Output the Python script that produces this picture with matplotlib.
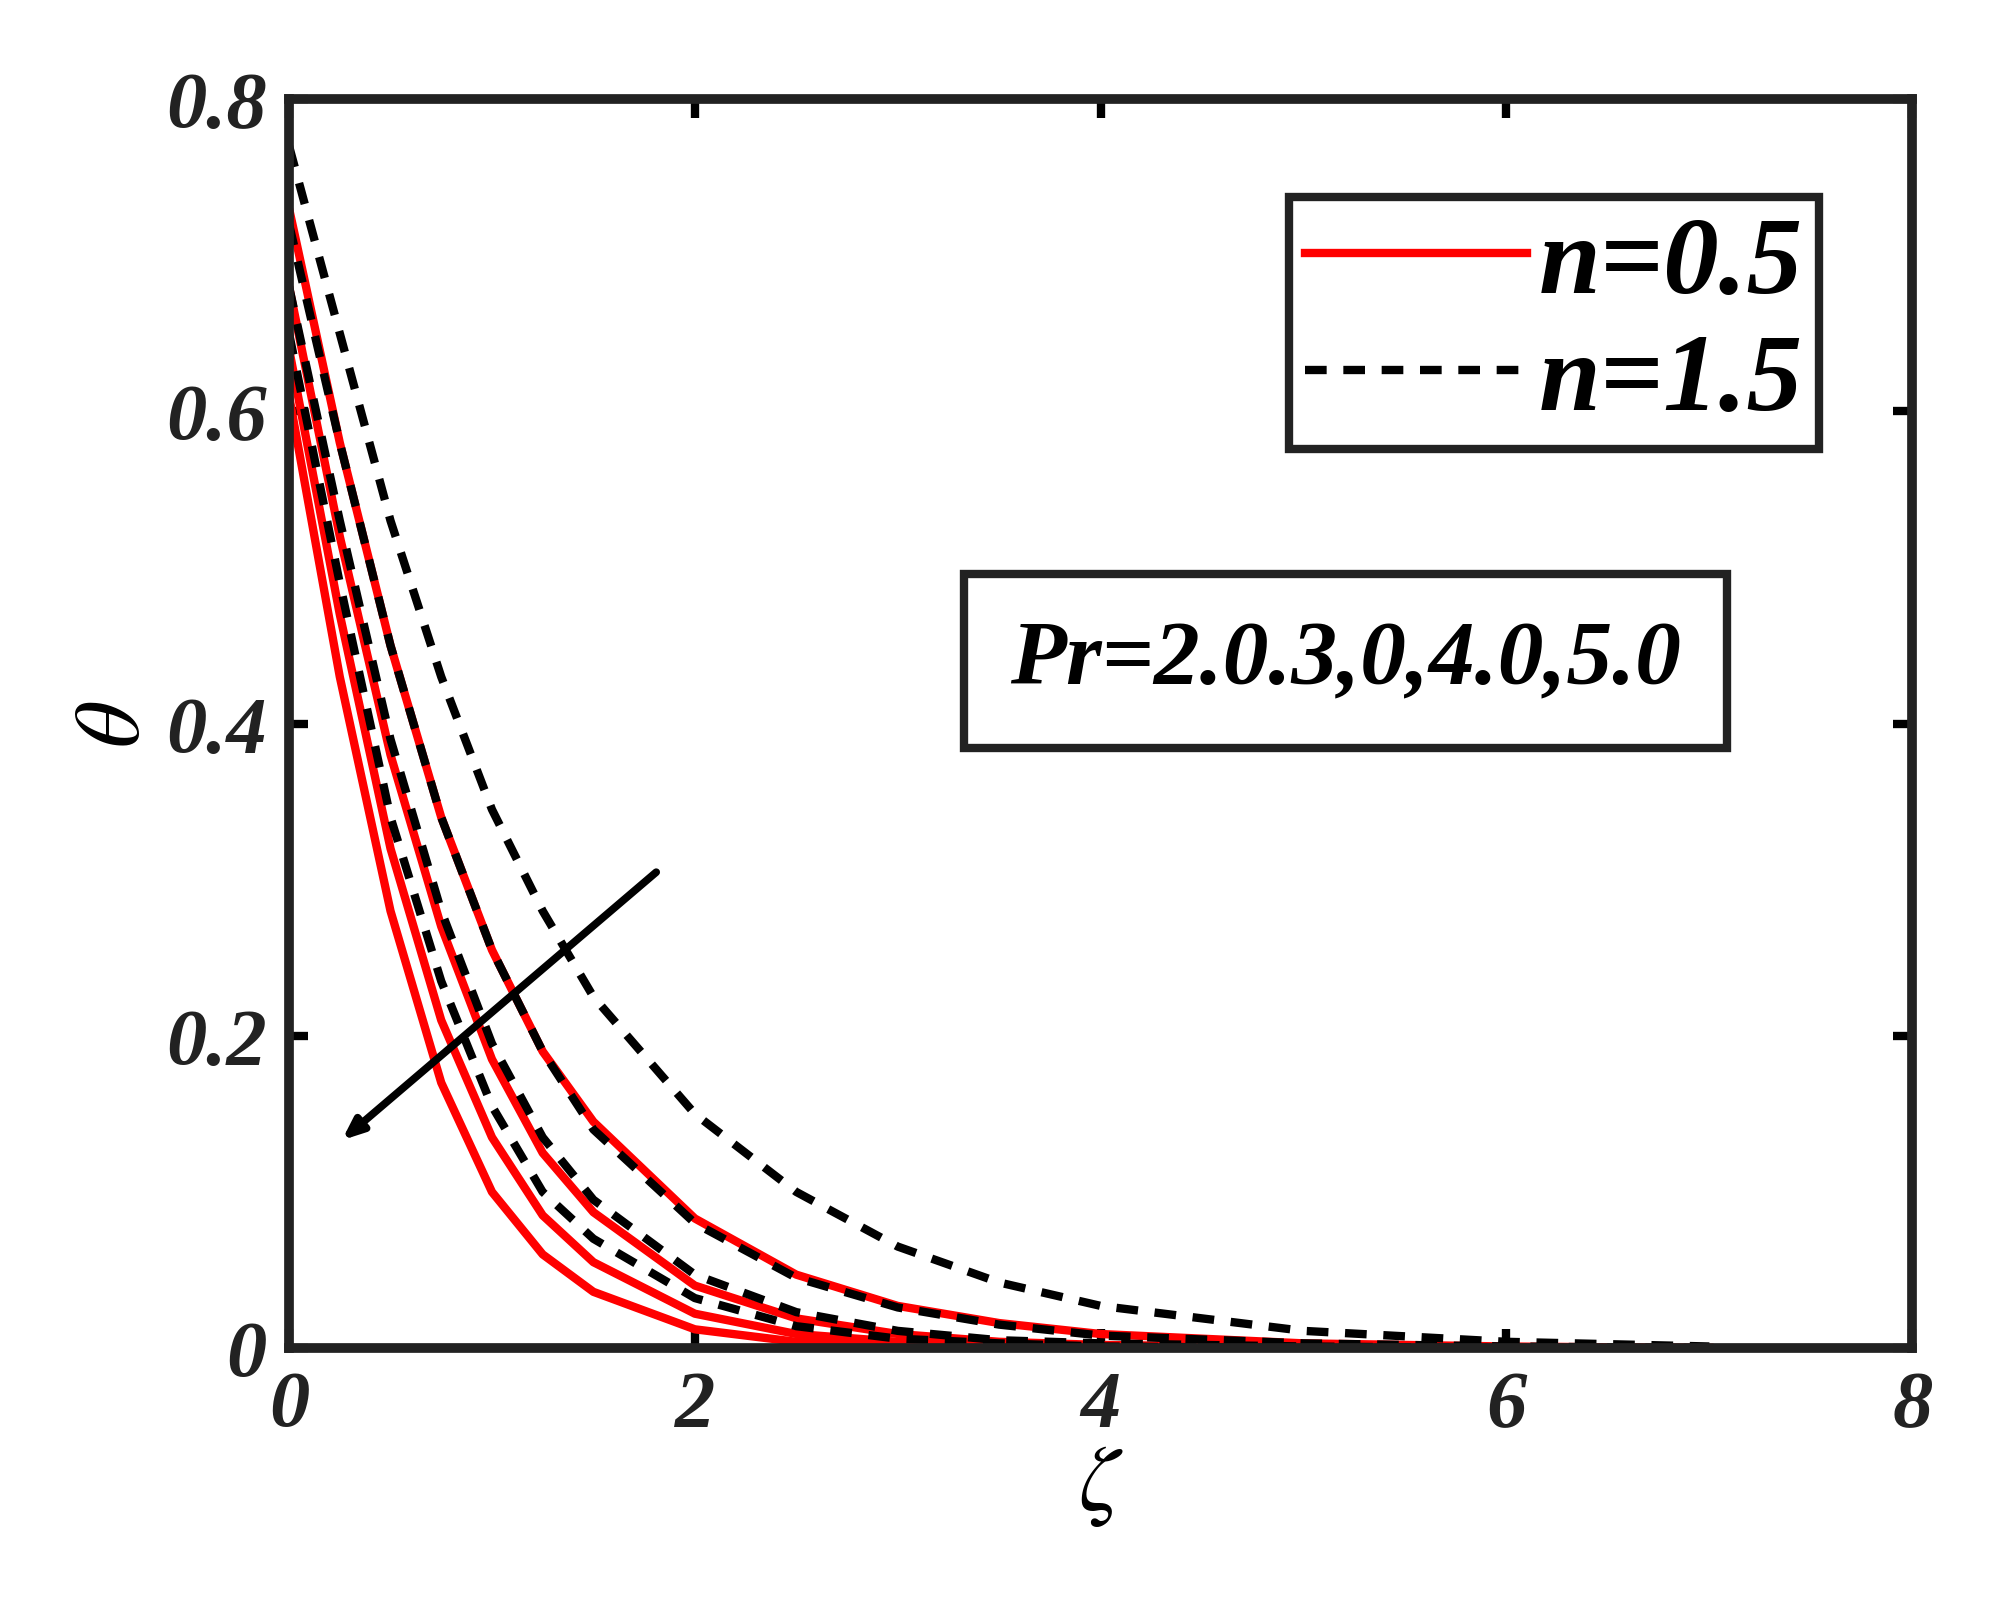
import matplotlib.pyplot as plt

plt.rcParams['font.family'] = ['Liberation Serif', 'DejaVu Serif']
plt.rcParams['mathtext.fontset'] = 'stix'

zeta = [0, 0.25, 0.5, 0.75, 1, 1.25, 1.5, 2, 2.5, 3, 3.5, 4, 5, 6, 7]

# n = 0.5 (red solid), Pr = 2, 3, 4, 5
red = [
    [0.73, 0.58, 0.45, 0.34, 0.255, 0.19, 0.145, 0.083, 0.047, 0.027, 0.016, 0.009, 0.003, 0.001, 0.0],
    [0.68, 0.52, 0.38, 0.27, 0.185, 0.125, 0.087, 0.04, 0.019, 0.009, 0.004, 0.002, 0.0005, 0.0, 0.0],
    [0.64, 0.47, 0.32, 0.21, 0.135, 0.085, 0.055, 0.022, 0.009, 0.004, 0.0015, 0.0006, 0.0, 0.0, 0.0],
    [0.61, 0.43, 0.28, 0.17, 0.10, 0.06, 0.036, 0.012, 0.004, 0.0015, 0.0005, 0.0, 0.0, 0.0, 0.0],
]
# n = 1.5 (black dashed)
black = [
    [0.77, 0.65, 0.53, 0.43, 0.345, 0.28, 0.225, 0.15, 0.10, 0.065, 0.042, 0.027, 0.011, 0.004, 0.001],
    [0.72, 0.58, 0.45, 0.34, 0.255, 0.19, 0.14, 0.08, 0.045, 0.026, 0.015, 0.008, 0.003, 0.001, 0.0],
    [0.68, 0.53, 0.39, 0.28, 0.195, 0.135, 0.095, 0.047, 0.023, 0.011, 0.005, 0.003, 0.001, 0.0, 0.0],
    [0.65, 0.49, 0.34, 0.235, 0.155, 0.10, 0.07, 0.032, 0.014, 0.006, 0.003, 0.001, 0.0, 0.0, 0.0],
]

fig = plt.figure(figsize=(19.99, 16.06), dpi=100)
ax = fig.add_axes([0.1446, 0.16, 0.812, 0.7776])

for i, y in enumerate(red):
    ax.plot(zeta, y, color='#ff0000', lw=6, label='n=0.5' if i == 0 else None)
for i, y in enumerate(black):
    ax.plot(zeta, y, color='black', lw=6, ls=(0, (2.6, 2.0)), label='n=1.5' if i == 0 else None)

ax.set_xlim(0, 8)
ax.set_ylim(0, 0.8)
ax.set_xticks([0, 2, 4, 6, 8])
ax.set_xticklabels(['0', '2', '4', '6', '8'])
ax.set_yticks([0, 0.2, 0.4, 0.6, 0.8])
ax.set_yticklabels(['0', '0.2', '0.4', '0.6', '0.8'])
for lab in ax.get_xticklabels() + ax.get_yticklabels():
    lab.set_fontweight('bold')
    lab.set_fontstyle('italic')
    lab.set_fontsize(58)
    lab.set_color('#222222')
ax.tick_params(direction='in', length=14, width=6, top=True, right=True, pad=16)
for s in ax.spines.values():
    s.set_linewidth(7)
    s.set_color('#222222')

ax.set_xlabel(r'$\zeta$', fontsize=66, labelpad=0)
ax.set_ylabel(r'$\theta$', fontsize=66, labelpad=6)

leg = ax.legend(loc='upper right', bbox_to_anchor=(0.977, 0.966), fancybox=False,
                edgecolor='#222222', handlelength=2.0, handletextpad=0.1,
                borderpad=0.15, labelspacing=0.15, framealpha=1,
                prop={'size': 80, 'weight': 'bold', 'style': 'italic'})
leg.get_frame().set_linewidth(6)

ax.text(0.651, 0.55, 'Pr=2.0.3,0,4.0,5.0', transform=ax.transAxes, ha='center', va='center',
        fontsize=66, fontweight='bold', fontstyle='italic',
        bbox=dict(boxstyle='square,pad=0.5', fc='white', ec='#222222', lw=6))

ax.annotate('', xy=(0.25, 0.132), xytext=(1.82, 0.306),
            arrowprops=dict(arrowstyle='-|>,head_length=1.2,head_width=0.5', color='black', lw=5.5))

fig.savefig('out.png')
